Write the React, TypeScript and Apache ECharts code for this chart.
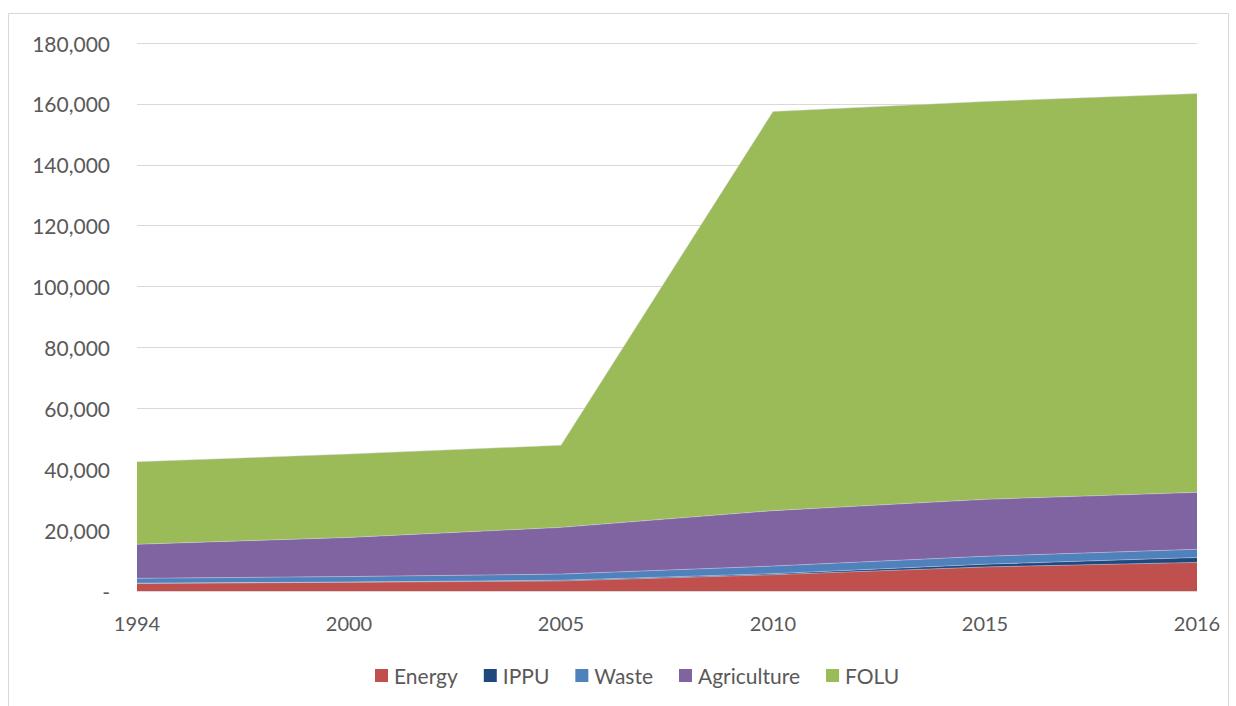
import React, { useEffect, useRef } from "react";
import * as echarts from "echarts";

const years = ["1994", "2000", "2005", "2010", "2015", "2016"];
const energy = [2500, 2850, 3300, 5350, 7900, 9400];
const ippu = [50, 100, 250, 350, 900, 1600];
const waste = [1600, 1800, 2000, 2500, 2600, 2700];
const agriculture = [11200, 12850, 15350, 18200, 18700, 18700];
const folu = [27100, 27400, 27000, 131100, 130700, 131000];

const seriesNames = ["Energy", "IPPU", "Waste", "Agriculture", "FOLU"];
const seriesColors = ["#C0504D", "#1F497D", "#4F81BD", "#8064A2", "#9BBB59"];
const seriesData = [energy, ippu, waste, agriculture, folu];

const FONT = "Lato";

export default function App() {
  const ref = useRef<HTMLDivElement>(null);
  useEffect(() => {
    if (!ref.current) return;
    const chart = echarts.init(ref.current, undefined, { renderer: "svg" });
    chart.setOption({
      animation: false,
      backgroundColor: "#ffffff",
      textStyle: { fontFamily: FONT },
      graphic: [
        {
          type: "rect",
          shape: { x: 8.5, y: 13.5, width: 1220, height: 700 },
          style: { fill: "none", stroke: "#d9d9d9", lineWidth: 1 },
          silent: true,
          z: -10,
        },
      ],
      grid: { left: 137, right: 39, top: 43, bottom: 115 },
      legend: {
        top: 660,
        left: 370,
        itemWidth: 13,
        itemHeight: 13,
        itemGap: 26,
        icon: "rect",
        textStyle: { fontFamily: FONT, fontSize: 21, color: "#595959", padding: [0, 0, 0, 1] },
        data: seriesNames,
      },
      xAxis: {
        type: "category",
        data: years,
        boundaryGap: false,
        axisLine: { show: true, lineStyle: { color: "#d9d9d9", width: 1 } },
        axisTick: { show: false },
        axisLabel: { fontFamily: FONT, fontSize: 20, color: "#595959", margin: 22 },
        splitLine: { show: false },
      },
      yAxis: {
        type: "value",
        min: 0,
        max: 180000,
        interval: 20000,
        axisLine: { show: false },
        axisTick: { show: false },
        axisLabel: {
          fontFamily: FONT,
          fontSize: 21,
          color: "#595959",
          margin: 27,
          formatter: (v: number) => (v === 0 ? "-" : v.toLocaleString("en-US")),
        },
        splitLine: { lineStyle: { color: "#d9d9d9", width: 1 } },
      },
      series: seriesNames.map((name, i) => ({
        name,
        type: "line",
        stack: "total",
        data: seriesData[i],
        symbol: "none",
        lineStyle: { width: 0.6, color: "#d8d8e8", opacity: 0.7 },
        itemStyle: { color: seriesColors[i] },
        areaStyle: { color: seriesColors[i], opacity: 1 },
      })),
    });
    return () => chart.dispose();
  }, []);
  return (
    <div
      ref={ref}
      style={{ position: "absolute", left: 0, top: 0, width: 1236, height: 706 }}
    />
  );
}
